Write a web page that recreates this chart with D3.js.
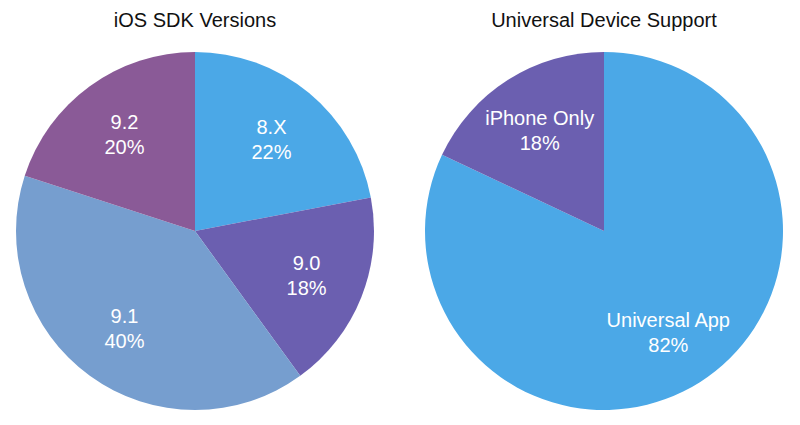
<!DOCTYPE html>
<html>
<head>
<meta charset="utf-8">
<script src="https://cdn.jsdelivr.net/npm/d3@7.9.0/dist/d3.min.js"></script>
<style>
  body { margin: 0; background: #fff; }
  text { font-family: "Liberation Sans", Arial, sans-serif; }
</style>
</head>
<body>
<svg id="chart" width="800" height="425"></svg>
<script>
// Chart data
const sdkLabels = ['8.X', '9.0', '9.1', '9.2'];
const sdkValues = [22, 18, 40, 20];
const sdkColors = ['#4ba8e7', '#6b5fb0', '#769ecf', '#8a5a97'];

const deviceLabels = ['Universal App', 'iPhone Only'];
const deviceValues = [82, 18];
const deviceColors = ['#4ba8e7', '#6b5fb0'];

const titles = ['iOS SDK Versions', 'Universal Device Support'];

const svg = d3.select('#chart');
const radius = 179;

function drawPie(cx, cy, title, labels, values, colors) {
  const g = svg.append('g').attr('transform', `translate(${cx},${cy})`);

  const data = labels.map((label, i) => ({ label: label, value: values[i] }));

  // keep the original order, start at 12 o'clock going clockwise
  const pie = d3.pie().value(d => d.value).sort(null);
  const arc = d3.arc().innerRadius(0).outerRadius(radius);
  const labelArc = d3.arc().innerRadius(120).outerRadius(120);

  const arcs = pie(data);

  g.selectAll('path')
    .data(arcs)
    .join('path')
    .attr('d', arc)
    .attr('fill', (d, i) => colors[i]);

  const labelsG = g.selectAll('text.lbl')
    .data(arcs)
    .join('text')
    .attr('class', 'lbl')
    .attr('transform', d => `translate(${labelArc.centroid(d)})`)
    .attr('text-anchor', 'middle')
    .attr('fill', '#fff')
    .style('font-size', '20px');

  labelsG.append('tspan')
    .attr('x', 0)
    .attr('y', -5)
    .text(d => d.data.label);

  labelsG.append('tspan')
    .attr('x', 0)
    .attr('y', 20)
    .text(d => d.data.value + '%');

  svg.append('text')
    .attr('x', cx)
    .attr('y', 27)
    .attr('text-anchor', 'middle')
    .attr('fill', '#111')
    .style('font-size', '20px')
    .text(title);
}

drawPie(195, 231, titles[0], sdkLabels, sdkValues, sdkColors);
drawPie(604, 231, titles[1], deviceLabels, deviceValues, deviceColors);
</script>
</body>
</html>
